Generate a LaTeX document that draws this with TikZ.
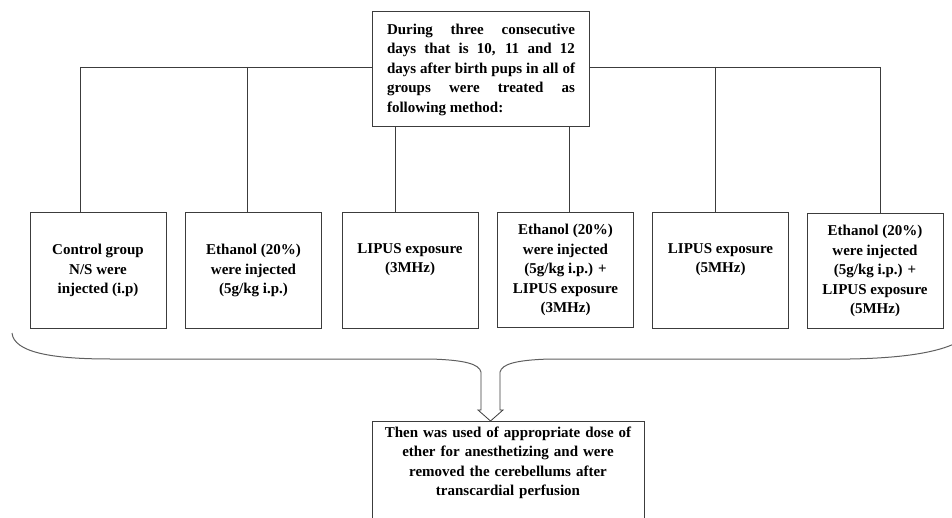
\documentclass[tikz,border=0pt]{standalone}
\usepackage{fontspec}
\setmainfont{Liberation Serif}
\usetikzlibrary{positioning, calc}
\definecolor{linegray}{RGB}{60, 60, 60}
\definecolor{bracegray}{RGB}{95, 95, 95}

\begin{document}
\begin{tikzpicture}[x=1pt, y=-1pt,
  boxfont/.style={font=\fontsize{15}{19.5}\selectfont\bfseries},
  groupbox/.style={draw=linegray, line width=1pt, fill=white, boxfont, minimum width=136pt, minimum height=115pt, align=center, inner sep=0pt},
  headbox/.style={draw=linegray, line width=1pt, fill=white, boxfont, minimum width=217pt, minimum height=115pt, text width=188pt, align=justify, inner sep=2pt},
  resultbox/.style={draw=linegray, line width=1pt, fill=white, boxfont, minimum width=272pt, text width=262pt, align=center, inner ysep=5pt},
  linkline/.style={draw=linegray, line width=0.9pt}]
  \useasboundingbox (0,0) rectangle (952,518);

  % Branch points on the top line
  \coordinate (t1) at (80,67);
  \coordinate (t2) at (247,67);
  \coordinate (t3) at (395,67);
  \coordinate (t4) at (569,67);
  \coordinate (t5) at (715,67);
  \coordinate (t6) at (880,67);
  \draw[linkline] (t1) -- (t6);

  % Treatment description
  \node[headbox] (top) at (481,69.5) {During three consecutive\linebreak days that is 10, 11 and 12\linebreak days after birth pups in all of\linebreak groups were treated as\linebreak following method:};

  % Groups
  \node[groupbox] (b1) at (98,270.5) {Control group\\N/S were\\injected (i.p)};
  \node[groupbox] (b2) at (253.5,270.5) {Ethanol (20\%)\\were injected\\(5g/kg i.p.)};
  \node[groupbox] (b3) at (410,270.5) {LIPUS exposure\\(3MHz)\\\strut};
  \node[groupbox] (b4) at (565.5,270) {Ethanol (20\%)\\were injected\\(5g/kg i.p.) +\\LIPUS exposure\\(3MHz)};
  \node[groupbox] (b5) at (720.5,270.5) {LIPUS exposure\\(5MHz)\\\strut};
  \node[groupbox] (b6) at (875,271) {Ethanol (20\%)\\were injected\\(5g/kg i.p.) +\\LIPUS exposure\\(5MHz)};

  \draw[linkline] (t1) -- (t1 |- b1.north);
  \draw[linkline] (t2) -- (t2 |- b2.north);
  \draw[linkline] (t3 |- top.south) -- (t3 |- b3.north);
  \draw[linkline] (t4 |- top.south) -- (t4 |- b4.north);
  \draw[linkline] (t5) -- (t5 |- b5.north);
  \draw[linkline] (t6) -- (t6 |- b6.north);

  % Brace under the groups
  \coordinate (tip) at (490.5,372);
  \draw[bracegray, line width=1pt]
    (12,333) .. controls (14,352) and (50,359) .. (110,359) -- (430,359)
    .. controls (465,360) and (479,364) .. ($(tip)+(-9.5,0)$);
  \draw[bracegray, line width=1pt]
    ($(tip)+(9.5,0)$) .. controls (502,364) and (516,360) .. (550,359) -- (850,359)
    .. controls (905,358) and (938,352) .. (956,343);

  % Outcome
  \node[resultbox, anchor=north] (result) at (508,421) {Then was used of appropriate dose of\\ether for anesthetizing and were\\removed the cerebellums after\\transcardial perfusion\\\strut};

  % Hollow arrow
  \draw[draw=linegray, line width=0.8pt, fill=white]
    ($(tip)+(-9.5,0)$) -- ($(tip |- result.north)+(-9.5,-11)$) -- ($(tip |- result.north)+(-12.5,-11)$)
    -- (tip |- result.north) -- ($(tip |- result.north)+(12.5,-11)$) -- ($(tip |- result.north)+(9.5,-11)$)
    -- ($(tip)+(9.5,0)$);
\end{tikzpicture}
\end{document}
